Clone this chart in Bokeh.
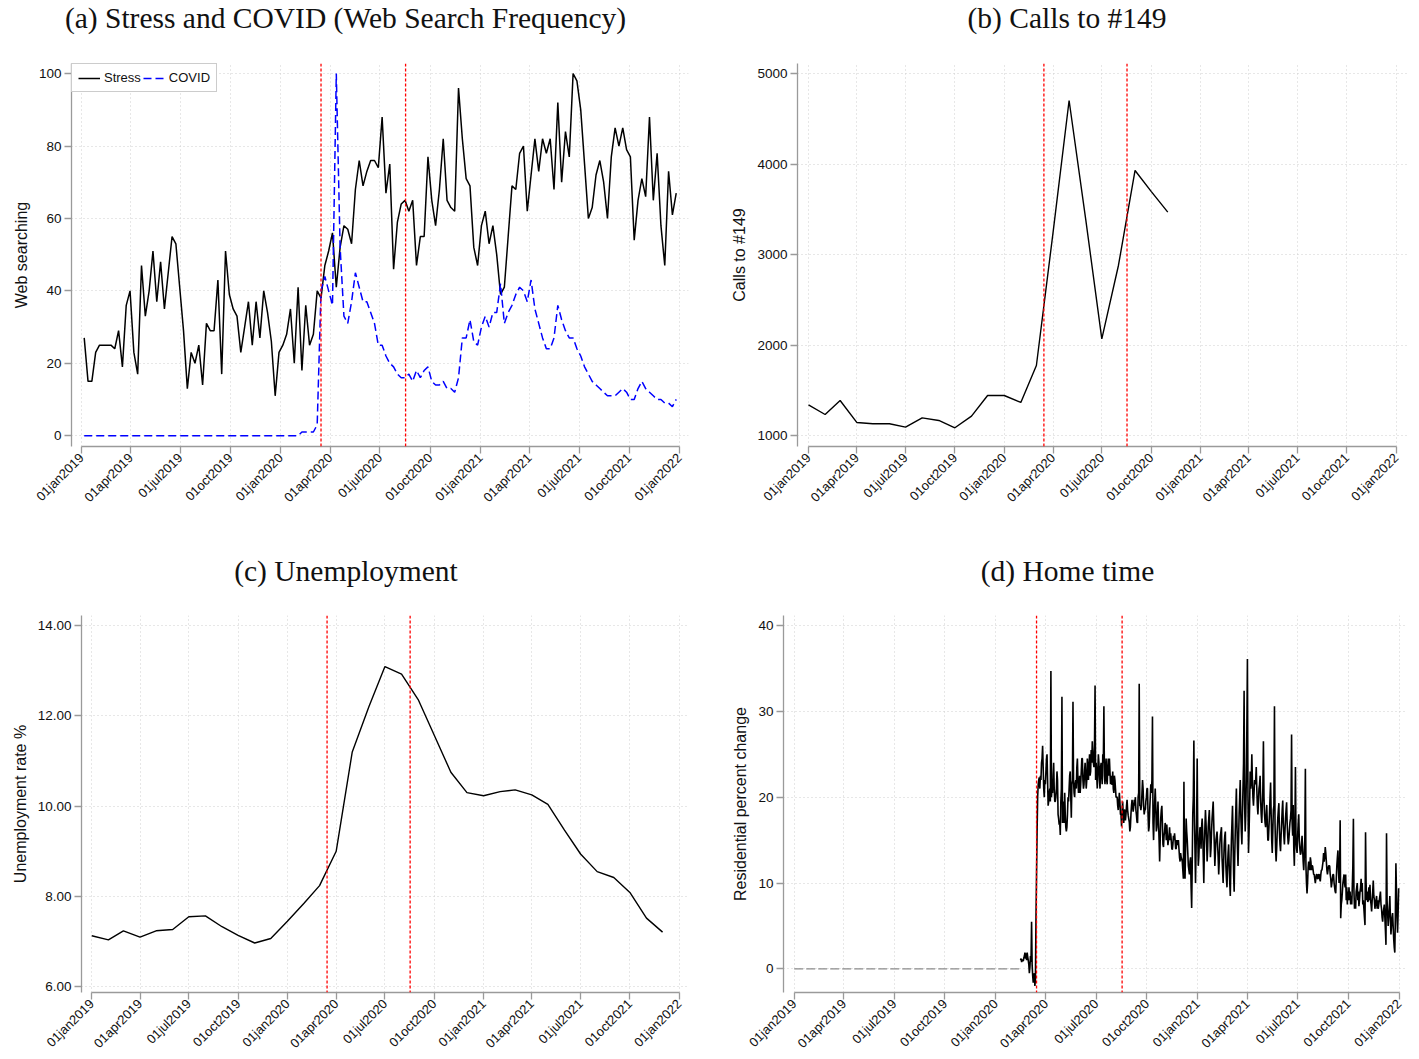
import math
import pandas as pd
from bokeh.plotting import figure
from bokeh.layouts import column, row
from bokeh.models import (Span, Label, Legend, LegendItem, FixedTicker,
                          CustomJSTickFormatter, NumeralTickFormatter, Range1d)
from bokeh.embed import file_html
from bokeh.resources import INLINE

# ---------------- data ----------------
quarter_ticks = ["2019-01-01", "2019-04-01", "2019-07-01", "2019-10-01", "2020-01-01",
                 "2020-04-01", "2020-07-01", "2020-10-01", "2021-01-01", "2021-04-01",
                 "2021-07-01", "2021-10-01", "2022-01-01"]
quarter_labels = ["01jan2019", "01apr2019", "01jul2019", "01oct2019", "01jan2020",
                  "01apr2020", "01jul2020", "01oct2020", "01jan2021", "01apr2021",
                  "01jul2021", "01oct2021", "01jan2022"]
event_dates = ["2020-03-15", "2020-08-17"]

titles = ["(a) Stress and COVID (Web Search Frequency)", "(b) Calls to #149",
          "(c) Unemployment", "(d) Home time"]

# (a) weekly web search frequency, first week 2019-01-06
search_start = "2019-01-06"
stress = [27, 15, 15, 23, 25, 25, 25, 25, 24, 29,
          19, 36, 40, 23, 17, 47, 33, 40, 51, 37,
          48, 35, 45, 55, 53, 41, 29, 13, 23, 20,
          25, 14, 31, 29, 29, 43, 17, 51, 39, 35,
          33, 23, 30, 37, 25, 37, 27, 40, 34, 26,
          11, 23, 25, 28, 35, 20, 41, 18, 36, 25,
          28, 40, 38, 47, 51, 56, 41, 52, 58, 57,
          53, 68, 76, 69, 73, 76, 76, 74, 88, 67,
          75, 46, 59, 64, 65, 62, 65, 47, 55, 55,
          77, 65, 58, 68, 82, 65, 63, 62, 96, 82,
          71, 69, 52, 47, 58, 62, 53, 58, 50, 39,
          41, 55, 69, 68, 78, 80, 62, 72, 82, 73,
          82, 78, 82, 68, 92, 70, 84, 77, 100, 98,
          90, 75, 60, 63, 72, 76, 70, 60, 77, 85,
          80, 85, 79, 77, 54, 65, 71, 66, 88, 65,
          78, 58, 47, 73, 61, 67]
covid = [0, 0, 0, 0, 0, 0, 0, 0, 0, 0,
         0, 0, 0, 0, 0, 0, 0, 0, 0, 0,
         0, 0, 0, 0, 0, 0, 0, 0, 0, 0,
         0, 0, 0, 0, 0, 0, 0, 0, 0, 0,
         0, 0, 0, 0, 0, 0, 0, 0, 0, 0,
         0, 0, 0, 0, 0, 0, 0,
         1, 1, 1, 1, 3, 40, 44, 40, 36, 100,
         52, 33, 31, 37, 45, 41, 37, 37, 34, 31,
         25, 25, 22, 20, 19, 17, 16, 16, 17, 15,
         18, 16, 18, 19, 15, 14, 14, 15, 13, 13,
         12, 16, 27, 27, 32, 26, 25, 30, 33, 30,
         34, 34, 42, 31, 34, 36, 39, 41, 40, 37,
         43, 35, 31, 27, 24, 24, 27, 36, 32, 29,
         27, 27, 24, 22, 19, 17, 15, 14, 13, 12,
         11, 11, 11, 12, 13, 12, 10, 10, 13, 15,
         13, 12, 11, 10, 10, 9, 9, 8, 10]

# (b) monthly calls to #149, from Jan 2019
calls_start = "2019-01-01"
calls = [1339, 1232, 1387, 1144, 1129, 1129, 1092, 1195, 1166, 1085, 1214, 1442,
         1442, 1365, 1774, 3240, 4705, 3390, 2069, 2880, 3931, 3700, 3470]

# (c) monthly unemployment rate, Jan 2019 - Dec 2021
unemp_start = "2019-01-01"
unemp = [7.13, 7.04, 7.24, 7.10, 7.24, 7.27, 7.55, 7.57, 7.33, 7.14, 6.97, 7.07,
         7.45, 7.85, 8.24, 9.00, 11.20, 12.20, 13.09, 12.92, 12.36, 11.57, 10.75, 10.30,
         10.23, 10.32, 10.36, 10.25, 10.04, 9.47, 8.94, 8.55, 8.42, 8.09, 7.52, 7.21]

# (d) daily residential percent change, 2020-02-15 .. 2021-12-31
home_start = "2020-02-15"
home = [
    1.0, 1.2, 0.8, 1.1, 1.0, 0.9, 1.3,
    1.5, 1.9, 1.2, 1.8, 1.0, 1.9, 1.4,
    1.0, 0.5, -0.5, 0.2, 1.5, 0.8, 5.5,
    0.5, -0.8, -1.6, -1.0, -0.5, -2.0, -1.2,
    6.0, 11.0, 16.0, 20.0, 21.5, 22.0, 22.3,
    21.0, 22.5, 22.0, 24.0, 24.5, 26.0, 23.5,
    21.0, 20.0, 22.0, 21.5, 23.0, 24.5, 25.0,
    22.0, 19.0, 19.5, 20.5, 21.0, 19.5, 34.7,
    20.0, 21.0, 20.5, 22.5, 24.0, 21.0, 19.5,
    19.5, 20.0, 21.0, 23.0, 22.0, 18.0, 17.5,
    16.8, 17.0, 15.6, 19.5, 21.0, 31.7, 17.0,
    18.5, 19.5, 17.0, 20.5, 18.0, 16.5, 16.0,
    16.5, 18.0, 20.0, 19.5, 21.0, 22.5, 23.0,
    20.0, 17.6, 21.5, 22.0, 31.1, 22.0, 20.5,
    20.0, 21.5, 22.0, 21.0, 23.5, 24.5, 22.0,
    20.5, 21.0, 22.5, 20.5, 21.5, 23.0, 24.5,
    24.5, 22.0, 21.0, 21.5, 23.0, 24.0, 22.5,
    21.0, 22.0, 24.5, 23.5, 22.0, 23.5, 25.0,
    22.5, 23.0, 25.5, 24.0, 26.5, 25.0, 24.0,
    23.5, 26.0, 33.0, 22.0, 24.0, 22.5, 21.0,
    23.0, 25.0, 24.0, 22.0, 21.0, 23.5, 24.0,
    22.5, 21.5, 25.0, 24.0, 30.6, 22.5, 21.5,
    23.0, 24.5, 22.0, 21.5, 23.5, 24.5, 22.5,
    24.5, 23.0, 21.5, 22.5, 21.5, 21.5, 23.0,
    21.0, 20.5, 22.5, 22.0, 21.0, 20.0, 20.0,
    20.0, 19.0, 18.5, 19.5, 20.5, 19.5, 18.0,
    18.0, 16.6, 18.5, 19.5, 18.0, 17.0, 18.5,
    18.5, 17.3, 18.0, 19.0, 19.7, 18.5, 17.9,
    17.5, 17.1, 16.0, 16.5, 18.0, 19.0, 19.7,
    19.0, 18.3, 18.8, 19.7, 19.0, 20.0, 18.5,
    17.9, 17.1, 17.0, 20.0, 20.5, 33.2, 19.0,
    19.0, 18.5, 19.0, 20.5, 22.0, 21.0, 19.0,
    18.0, 18.5, 18.5, 19.5, 20.0, 21.0, 21.0,
    18.0, 16.0, 16.5, 18.5, 20.0, 21.5, 20.5,
    22.0, 29.4, 17.0, 15.0, 17.5, 19.5, 21.0,
    19.0, 16.0, 16.5, 18.0, 19.5, 17.0, 15.0,
    12.5, 15.0, 17.5, 18.5, 19.0, 17.0, 14.5,
    14.2, 15.5, 16.0, 17.0, 16.5, 15.0, 16.8,
    15.5, 14.4, 15.0, 15.5, 16.5, 15.0, 15.8,
    15.0, 14.0, 13.9, 14.5, 15.5, 15.0, 15.8,
    15.0, 14.0, 14.0, 15.0, 14.5, 14.5, 15.0,
    14.0, 13.0, 12.5, 13.5, 13.0, 12.8, 12.5,
    11.5, 10.5, 21.8, 12.5, 10.5, 14.0, 17.5,
    16.0, 15.0, 13.5, 12.0, 11.5, 11.0, 12.5,
    13.0, 9.5, 7.1, 12.0, 18.0, 20.0, 26.6,
    18.0, 14.0, 10.0, 14.0, 17.0, 24.5, 16.0,
    12.0, 13.0, 15.0, 16.5, 16.0, 14.0, 16.5,
    17.5, 16.0, 13.0, 10.0, 14.0, 16.5, 18.5,
    17.0, 15.0, 12.5, 14.0, 16.5, 17.5, 18.5,
    16.0, 13.0, 14.0, 16.0, 17.5, 18.5, 19.5,
    17.0, 14.5, 12.0, 13.5, 15.0, 15.5, 16.0,
    14.5, 13.0, 11.0, 12.5, 14.5, 15.5, 16.0,
    16.5, 13.0, 11.5, 10.0, 12.5, 14.5, 15.5,
    16.0, 12.0, 10.5, 9.5, 12.0, 13.5, 14.5,
    12.0, 10.0, 8.5, 12.0, 15.0, 17.0, 19.0,
    15.0, 11.0, 9.0, 13.0, 16.0, 18.5, 21.0,
    17.0, 14.0, 12.0, 15.0, 18.0, 20.0, 22.0,
    18.0, 16.0, 14.5, 18.0, 21.0, 24.0, 32.4,
    19.0, 16.0, 18.0, 22.0, 28.0, 36.1, 20.0,
    13.5, 16.0, 19.0, 23.0, 21.0, 22.0, 25.0,
    22.0, 20.0, 19.0, 20.5, 22.0, 21.5, 22.0,
    23.5, 21.0, 19.0, 18.0, 19.5, 21.0, 21.5,
    22.5, 19.5, 18.0, 17.0, 19.0, 21.0, 26.5,
    20.0, 18.0, 17.0, 16.5, 18.0, 19.1, 17.0,
    15.0, 15.0, 16.5, 18.0, 20.0, 21.7, 18.0,
    15.0, 13.5, 16.0, 18.5, 19.0, 30.6, 17.0,
    14.0, 12.5, 14.0, 16.0, 17.5, 18.5, 19.3,
    16.0, 14.5, 13.7, 15.5, 17.0, 18.5, 19.6,
    17.0, 15.5, 14.5, 16.0, 17.5, 18.5, 19.4,
    17.0, 15.5, 14.5, 15.0, 16.0, 17.0, 17.5,
    18.5, 27.3, 17.0, 15.5, 19.1, 14.0, 12.0,
    16.0, 23.5, 15.0, 14.0, 13.5, 15.5, 17.0,
    18.0, 15.0, 14.0, 13.3, 13.5, 14.5, 15.5,
    14.0, 12.5, 11.5, 13.0, 15.0, 23.3, 12.0,
    10.0, 8.8, 10.0, 11.8, 12.5, 12.0, 11.5,
    13.0, 12.5, 11.5, 12.0, 12.0, 11.5, 11.0,
    11.0, 10.5, 10.0, 10.5, 11.0, 11.0, 10.5,
    10.5, 11.0, 11.0, 10.5, 10.2, 11.0, 11.5,
    11.5, 12.0, 12.5, 13.5, 12.5, 13.0, 14.2,
    13.5, 12.5, 11.5, 11.0, 11.5, 12.0, 12.0,
    12.0, 11.0, 10.5, 9.5, 10.0, 10.5, 11.0,
    11.0, 10.0, 9.5, 9.0, 8.8, 10.5, 12.0,
    13.0, 13.8, 11.5, 10.0, 11.0, 17.3, 5.9,
    7.5, 8.0, 9.0, 10.0, 10.5, 11.0, 10.0,
    9.5, 11.0, 8.0, 9.5, 7.5, 9.0, 8.0,
    9.5, 8.0, 9.0, 7.5, 8.5, 7.5, 9.5,
    12.0, 17.5, 9.0, 7.0, 8.0, 7.0, 9.0,
    9.5, 10.0, 8.0, 9.0, 7.3, 8.0, 9.0,
    9.5, 10.5, 9.0, 10.0, 7.5, 8.0, 7.0,
    6.0, 5.1, 15.9, 10.0, 8.0, 9.0, 7.8,
    8.0, 9.5, 8.0, 9.8, 8.0, 7.5, 6.7,
    8.0, 9.0, 10.3, 8.5, 8.0, 7.0, 7.5,
    8.0, 8.5, 7.0, 8.0, 7.0, 7.5, 8.0,
    8.5, 9.0, 7.5, 7.0, 6.0, 5.5, 6.5,
    7.0, 7.5, 6.0, 4.5, 2.8, 15.8, 8.0,
    6.5, 5.0, 6.0, 7.0, 8.5, 6.0, 4.0,
    5.0, 6.0, 6.5, 5.0, 3.5, 2.5, 1.9,
    6.0, 12.3, 9.0, 6.0, 4.2, 6.5, 9.4,
]
baseline_dates = ["2019-01-01", "2020-02-14"]
baseline_vals = [0, 0]

# ---------------- helpers ----------------
DAY = 86400000.0


def ms(s):
    return pd.Timestamp(s).value / 1e6


def to_ms(idx):
    return [ts.value / 1e6 for ts in idx]


tick_ms = [ms(t) for t in quarter_ticks]
T0, T1 = tick_ms[0], tick_ms[-1]

SANS = "Liberation Sans"
SERIF = "Liberation Serif"
AXIS_GRAY = "#9a9a9a"
GRID_GRAY = "#cfcfcf"
W_LEFT, W_RIGHT = 709, 710

x_fmt_code = """
let best = 0; let bd = Infinity;
for (let i = 0; i < tvals.length; i++) {
  const d = Math.abs(tvals[i] - tick);
  if (d < bd) { bd = d; best = i; }
}
return tlabels[best];
"""


def title_fig(width, height, text, cx, cy_from_bottom):
    t = figure(width=width, height=height, x_range=(0, 1), y_range=(0, 1),
               x_axis_type=None, y_axis_type=None, output_backend="svg",
               toolbar_location=None, min_border_left=0, min_border_right=0,
               min_border_top=0, min_border_bottom=0, outline_line_color=None,
               background_fill_color="white", border_fill_color="white")
    t.grid.visible = False
    t.add_layout(Label(x=cx, y=cy_from_bottom, x_units="screen", y_units="screen",
                       text=text, text_align="center", text_baseline="middle",
                       text_font=SERIF, text_font_size="29.5px", text_color="#111111"))
    return t


def make_panel(width, height, ml, mr, mt, mb, pad_l, pad_r, y0, y1, yticks, ylabel,
               yfmt=None):
    p = figure(width=width, height=height,
               x_range=Range1d(T0 - pad_l * DAY, T1 + pad_r * DAY),
               y_range=Range1d(y0, y1),
               output_backend="svg", toolbar_location=None,
               min_border_left=ml, min_border_right=mr,
               min_border_top=mt, min_border_bottom=mb,
               background_fill_color="white", border_fill_color="white",
               outline_line_color=None)
    xa = p.xaxis[0]
    xa.ticker = FixedTicker(ticks=tick_ms)
    xa.formatter = CustomJSTickFormatter(args=dict(tvals=tick_ms, tlabels=quarter_labels),
                                         code=x_fmt_code)
    xa.bounds = (T0, T1)
    xa.major_label_orientation = math.pi / 4
    ya = p.yaxis[0]
    ya.ticker = FixedTicker(ticks=yticks)
    if yfmt is not None:
        ya.formatter = yfmt
    ya.axis_label = ylabel
    for ax in (xa, ya):
        ax.axis_line_color = AXIS_GRAY
        ax.axis_line_width = 1.3
        ax.major_tick_line_color = AXIS_GRAY
        ax.major_tick_line_width = 1.3
        ax.major_tick_out = 7
        ax.major_tick_in = 0
        ax.minor_tick_line_color = None
        ax.major_label_text_font = SANS
        ax.major_label_text_font_size = "13.5px"
        ax.major_label_text_color = "#111111"
        ax.major_label_standoff = 3
    xa.major_label_text_font_size = "13px"
    xa.major_label_standoff = 2
    ya.axis_label_text_font = SANS
    ya.axis_label_text_font_size = "16px"
    ya.axis_label_text_font_style = "normal"
    ya.axis_label_text_color = "#111111"
    ya.axis_label_standoff = 6
    for g in (p.xgrid[0], p.ygrid[0]):
        g.grid_line_color = GRID_GRAY
        g.grid_line_dash = "1 3"
        g.grid_line_width = 1
    return p


def add_events(p):
    for d in event_dates:
        p.add_layout(Span(location=ms(d), dimension="height", line_color="#ff0000",
                          line_dash="3 2", line_width=1.3))


# ---------------- titles ----------------
ta = title_fig(W_LEFT, 50, titles[0], 345, 33)
tb = title_fig(W_RIGHT, 50, titles[1], 357.5, 33)
tc = title_fig(W_LEFT, 57, titles[2], 345.5, 27)
td = title_fig(W_RIGHT, 57, titles[3], 358, 27)

# ---------------- (a) ----------------
pa = make_panel(W_LEFT, 490, 71, 21, 13, 94, 18.3, 16.5, -3.0, 102.8,
                [0, 20, 40, 60, 80, 100], "Web searching")
wk = to_ms(pd.date_range(search_start, periods=len(stress), freq="7D"))
wk2 = to_ms(pd.date_range(search_start, periods=len(covid), freq="7D"))
r_stress = pa.line(wk, stress, line_color="black", line_width=1.5)
r_covid = pa.line(wk2, covid, line_color="#0000ff", line_width=1.5, line_dash="8 4")
add_events(pa)
leg = Legend(items=[LegendItem(label="Stress", renderers=[r_stress]),
                    LegendItem(label="COVID", renderers=[r_covid])],
             location="top_left", orientation="horizontal", margin=0, padding=6,
             spacing=2, glyph_width=22, glyph_height=14, label_height=14,
             label_standoff=4, label_text_font=SANS, label_text_font_size="13px",
             label_text_color="#111111", border_line_color="#9a9a9a",
             border_line_width=1, background_fill_color="white",
             background_fill_alpha=1.0)
pa.add_layout(leg)

# ---------------- (b) ----------------
pb = make_panel(W_RIGHT, 490, 88, 10, 13, 94, 20.5, 24.8, 878, 5114,
                [1000, 2000, 3000, 4000, 5000], "Calls to #149")
mo = to_ms(pd.date_range(calls_start, periods=len(calls), freq="MS"))
pb.line(mo, calls, line_color="black", line_width=1.4)
add_events(pb)

# ---------------- (c) ----------------
pc = make_panel(W_LEFT, 462, 81, 21, 18, 62, 19.2, 17.4, 5.874, 14.22,
                [6, 8, 10, 12, 14], "Unemployment rate %",
                NumeralTickFormatter(format="0.00"))
mo2 = to_ms(pd.date_range(unemp_start, periods=len(unemp), freq="MS"))
pc.line(mo2, unemp, line_color="black", line_width=1.4)
add_events(pc)

# ---------------- (d) ----------------
pd_ = make_panel(W_RIGHT, 462, 74, 12, 18, 62, 19.4, 15.0, -2.75, 41.16,
                 [0, 10, 20, 30, 40], "Residential percent change")
pd_.line([ms(d) for d in baseline_dates], baseline_vals, line_color="#8c8c8c",
         line_width=1.3, line_dash="9 3")
dy = to_ms(pd.date_range(home_start, periods=len(home), freq="D"))
pd_.line(dy, home, line_color="black", line_width=1.6)
add_events(pd_)

layout = column(row(ta, tb), row(pa, pb), row(tc, td), row(pc, pd_))
open("out.html", "w").write(file_html(layout, INLINE, title="COVID panels"))
